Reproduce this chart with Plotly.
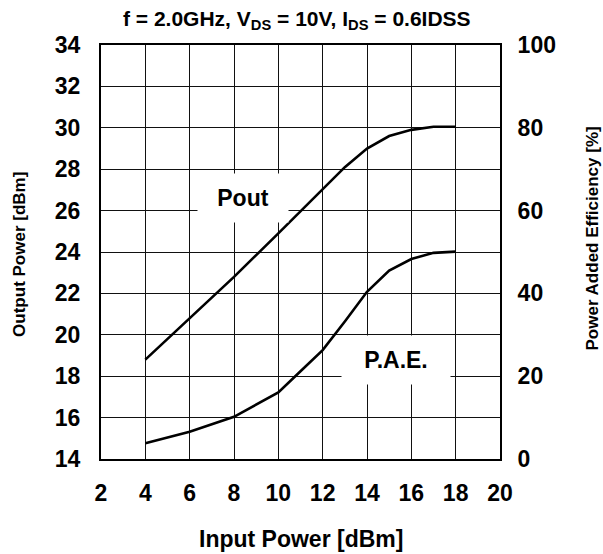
import plotly.graph_objects as go

# Data
pin_pout = [4, 6, 8, 10, 12, 13, 14, 15, 16, 17, 18]
pout = [18.8, 20.8, 22.8, 24.9, 27.0, 28.1, 29.0, 29.6, 29.9, 30.05, 30.05]

pin_pae = [4, 6, 8, 10, 11, 12, 13, 14, 15, 16, 17, 18]
pae = [3.8, 6.6, 10.2, 16.1, 21.2, 26.3, 33.2, 40.4, 45.5, 48.3, 49.8, 50.1]

x_ticks = [2, 4, 6, 8, 10, 12, 14, 16, 18, 20]
y_ticks = [14, 16, 18, 20, 22, 24, 26, 28, 30, 32, 34]
y2_ticks = [0, 20, 40, 60, 80, 100]

FONT = "Liberation Sans, Arial, sans-serif"
bold = dict(family=FONT, color="black", weight="bold")
CLEAR = "rgba(0,0,0,0)"

fig = go.Figure()
fig.add_trace(go.Scatter(x=pin_pout, y=pout, mode="lines", name="Pout",
                         line=dict(color="black", width=2.6), yaxis="y"))
fig.add_trace(go.Scatter(x=pin_pae, y=pae, mode="lines", name="P.A.E.",
                         line=dict(color="black", width=2.6), yaxis="y2"))

# curve labels on white boxes that hide the grid
fig.add_annotation(x=8.4, y=26.6, xref="x", yref="y", text="Pout", showarrow=False,
                   bgcolor="white", width=88, height=46,
                   font=dict(size=23, **bold))
fig.add_annotation(x=15.3, y=24.0, xref="x", yref="y2", text="P.A.E.", showarrow=False,
                   bgcolor="white", width=106, height=46,
                   font=dict(size=23, **bold))

# chart title
fig.add_annotation(x=0.491, y=1.0604, xref="paper", yref="paper",
                   text="f = 2.0GHz, V<sub>DS</sub> = 10V, I<sub>DS</sub> = 0.6IDSS",
                   showarrow=False, xanchor="center", yanchor="middle",
                   font=dict(size=21, **bold))

# axis titles
fig.add_annotation(x=0.5, y=-0.1932, xref="paper", yref="paper",
                   text="Input Power [dBm]", showarrow=False,
                   xanchor="center", yanchor="middle", font=dict(size=23, **bold))
fig.add_annotation(x=-0.203, y=0.493, xref="paper", yref="paper",
                   text="Output Power [dBm]", textangle=-90, showarrow=False,
                   xanchor="center", yanchor="middle", font=dict(size=17, **bold))
fig.add_annotation(x=1.2306, y=0.5326, xref="paper", yref="paper",
                   text="Power Added Efficiency [%]", textangle=-90, showarrow=False,
                   xanchor="center", yanchor="middle", font=dict(size=17, **bold))

fig.update_layout(
    template="none",
    width=603, height=554,
    margin=dict(l=101, r=103, t=45, b=95),
    paper_bgcolor="white", plot_bgcolor="white",
    showlegend=False,
    xaxis=dict(range=[2, 20], tickvals=x_ticks, showgrid=True, gridcolor="#111111",
               gridwidth=1, griddash="solid", layer="below traces",
               tickfont=dict(size=23, **bold),
               ticks="outside", ticklen=12, tickcolor=CLEAR,
               showline=True, linecolor="black", linewidth=2, mirror=True,
               zeroline=False, automargin=False),
    yaxis=dict(range=[14, 34], tickvals=y_ticks, showgrid=True, gridcolor="#111111",
               gridwidth=1, griddash="solid", layer="below traces",
               tickfont=dict(size=23, **bold),
               ticks="outside", ticklen=14, tickcolor=CLEAR,
               showline=True, linecolor="black", linewidth=2, mirror=True,
               zeroline=False, automargin=False),
    yaxis2=dict(range=[0, 100], tickvals=y2_ticks, overlaying="y", side="right",
                showgrid=True, gridcolor="#111111", gridwidth=1,
                tickfont=dict(size=23, **bold),
                ticks="outside", ticklen=12, tickcolor=CLEAR,
                showline=False, zeroline=False, automargin=False),
)

fig.write_html("out.html")
